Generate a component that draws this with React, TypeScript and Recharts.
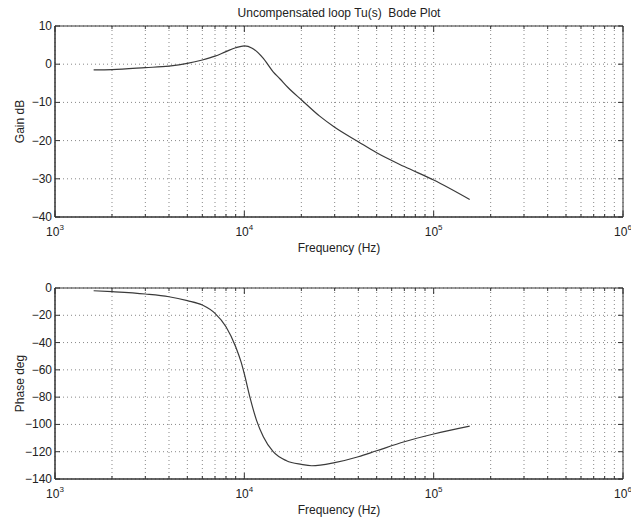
import React from 'react';
import {
  LineChart,
  Line,
  XAxis,
  YAxis,
  CartesianGrid,
  ReferenceArea,
} from 'recharts';

// Values
const GAIN_FREQ = [
  1600, 2000, 3000, 4000, 5000, 6000, 7000, 8000, 9000, 10000, 11000, 12600,
  14200, 15400, 17000, 20000, 25000, 30000, 40000, 50000, 70000, 100000,
  155000,
];
const GAIN_DB = [
  -1.5, -1.4, -0.9, -0.5, 0.2, 1.1, 2.1, 3.3, 4.3, 4.8, 4.2, 1.5, -2.0, -3.8,
  -6.1, -9.3, -13.6, -16.5, -20.3, -23.2, -26.8, -30.3, -35.4,
];

const PHASE_FREQ = [
  1600, 2000, 3000, 4000, 5000, 6000, 7000, 8000, 9000, 9600, 10000, 10700,
  11600, 12600, 14200, 16700, 20000, 22700, 30000, 40000, 50000, 70000, 100000,
  155000,
];
const PHASE_DEG = [
  -2.0, -2.7, -4.4, -6.4, -9.3, -12.5, -18.6, -28.4, -43, -54, -63, -80,
  -97, -109, -120, -126.6, -129.3, -130.3, -128, -123.7, -119.3, -112.7,
  -107, -101.2,
];

const FREQ_TICKS = [
  1000, 2000, 3000, 4000, 5000, 6000, 7000, 8000, 9000,
  10000, 20000, 30000, 40000, 50000, 60000, 70000, 80000, 90000,
  100000, 200000, 300000, 400000, 500000, 600000, 700000, 800000, 900000,
  1000000,
];
const GAIN_TICKS = [10, 0, -10, -20, -30, -40];
const PHASE_TICKS = [0, -20, -40, -60, -80, -100, -120, -140];

const FONT = '"Liberation Sans", Arial, sans-serif';
const AXIS = '#333';
const TEXT = '#222';
const PLOT_W = 568;
const PLOT_H = 191;

function decadeExp(v: number) {
  const e = Math.log10(v);
  return Math.abs(e - Math.round(e)) < 1e-9 ? Math.round(e) : null;
}

function FreqTick(props: any) {
  const { x, y, payload } = props;
  const exp = decadeExp(payload.value);
  const len = exp !== null ? 6 : 3;
  return (
    <g>
      <line x1={x} x2={x} y1={y} y2={y - len} stroke={AXIS} />
      <line x1={x} x2={x} y1={y - PLOT_H} y2={y - PLOT_H + len} stroke={AXIS} />
      {exp !== null && (
        <text
          x={x}
          y={y + 19}
          textAnchor="middle"
          fontFamily={FONT}
          fontSize={12}
          fill={TEXT}
        >
          10
          <tspan dy={-6} fontSize={8}>
            {exp}
          </tspan>
        </text>
      )}
    </g>
  );
}

function ValueTick(props: any) {
  const { x, y, payload } = props;
  const v = payload.value;
  const label = v < 0 ? '\u2212' + Math.abs(v) : String(v);
  return (
    <g>
      <line x1={x} x2={x + 5} y1={y} y2={y} stroke={AXIS} />
      <line x1={x + PLOT_W} x2={x + PLOT_W - 5} y1={y} y2={y} stroke={AXIS} />
      <text
        x={x - 3}
        y={y + 4}
        textAnchor="end"
        fontFamily={FONT}
        fontSize={12}
        fill={TEXT}
      >
        {label}
      </text>
    </g>
  );
}

function xLabel(props: any) {
  const { viewBox } = props;
  return (
    <text
      x={viewBox.x + viewBox.width / 2}
      y={viewBox.y + 35}
      textAnchor="middle"
      fontFamily={FONT}
      fontSize={12}
      fill={TEXT}
    >
      Frequency  (Hz)
    </text>
  );
}

function yLabel(text: string) {
  return (props: any) => {
    const { viewBox } = props;
    const cx = 20;
    const cy = viewBox.y + viewBox.height / 2;
    return (
      <text
        x={cx}
        y={cy}
        transform={`rotate(-90 ${cx} ${cy})`}
        textAnchor="middle"
        dominantBaseline="central"
        fontFamily={FONT}
        fontSize={12}
        fill={TEXT}
      >
        {text}
      </text>
    );
  };
}

type PanelProps = {
  data: { f: number; v: number }[];
  ticks: number[];
  domain: [number, number];
  label: string;
  marginTop: number;
  marginBottom: number;
};

function BodePanel({ data, ticks, domain, label, marginTop, marginBottom }: PanelProps) {
  return (
    <LineChart
      width={631}
      height={260}
      data={data}
      margin={{ top: marginTop, right: 8, bottom: marginBottom, left: 0 }}
      style={{ whiteSpace: 'pre' }}
    >
      <CartesianGrid stroke="#888" strokeDasharray="1 3" />
      <XAxis
        dataKey="f"
        type="number"
        scale="log"
        domain={[1000, 1000000]}
        ticks={FREQ_TICKS}
        interval={0}
        height={30}
        tickSize={0}
        tickMargin={0}
        tickLine={false}
        axisLine={{ stroke: AXIS }}
        tick={<FreqTick />}
        label={xLabel}
        allowDataOverflow
      />
      <YAxis
        type="number"
        domain={domain}
        ticks={ticks}
        interval={0}
        width={55}
        tickSize={0}
        tickMargin={0}
        tickLine={false}
        axisLine={{ stroke: AXIS }}
        tick={<ValueTick />}
        label={yLabel(label)}
        allowDataOverflow
      />
      <ReferenceArea
        x1={1000}
        x2={1000000}
        y1={domain[0]}
        y2={domain[1]}
        fill="none"
        stroke={AXIS}
        strokeOpacity={1}
        fillOpacity={0}
      />
      <Line
        dataKey="v"
        type="monotone"
        stroke="#3a3a3a"
        strokeWidth={1.2}
        dot={false}
        isAnimationActive={false}
      />
    </LineChart>
  );
}

export default function App() {
  const gainData = GAIN_FREQ.map((f, i) => ({ f, v: GAIN_DB[i] }));
  const phaseData = PHASE_FREQ.map((f, i) => ({ f, v: PHASE_DEG[i] }));

  return (
    <div
      style={{
        position: 'absolute',
        left: 0,
        top: 0,
        width: 631,
        height: 520,
        background: '#fff',
        fontFamily: FONT,
      }}
    >
      <div
        style={{
          position: 'absolute',
          left: 55,
          top: 5,
          width: PLOT_W,
          textAlign: 'center',
          fontSize: 12,
          lineHeight: '16px',
          color: TEXT,
          whiteSpace: 'pre',
        }}
      >
        Uncompensated loop Tu(s)  Bode Plot
      </div>
      <div style={{ position: 'absolute', left: 0, top: 0 }}>
        <BodePanel
          data={gainData}
          ticks={GAIN_TICKS}
          domain={[-40, 10]}
          label="Gain dB"
          marginTop={26}
          marginBottom={13}
        />
      </div>
      <div style={{ position: 'absolute', left: 0, top: 260 }}>
        <BodePanel
          data={phaseData}
          ticks={PHASE_TICKS}
          domain={[-140, 0]}
          label="Phase deg"
          marginTop={28}
          marginBottom={11}
        />
      </div>
    </div>
  );
}
